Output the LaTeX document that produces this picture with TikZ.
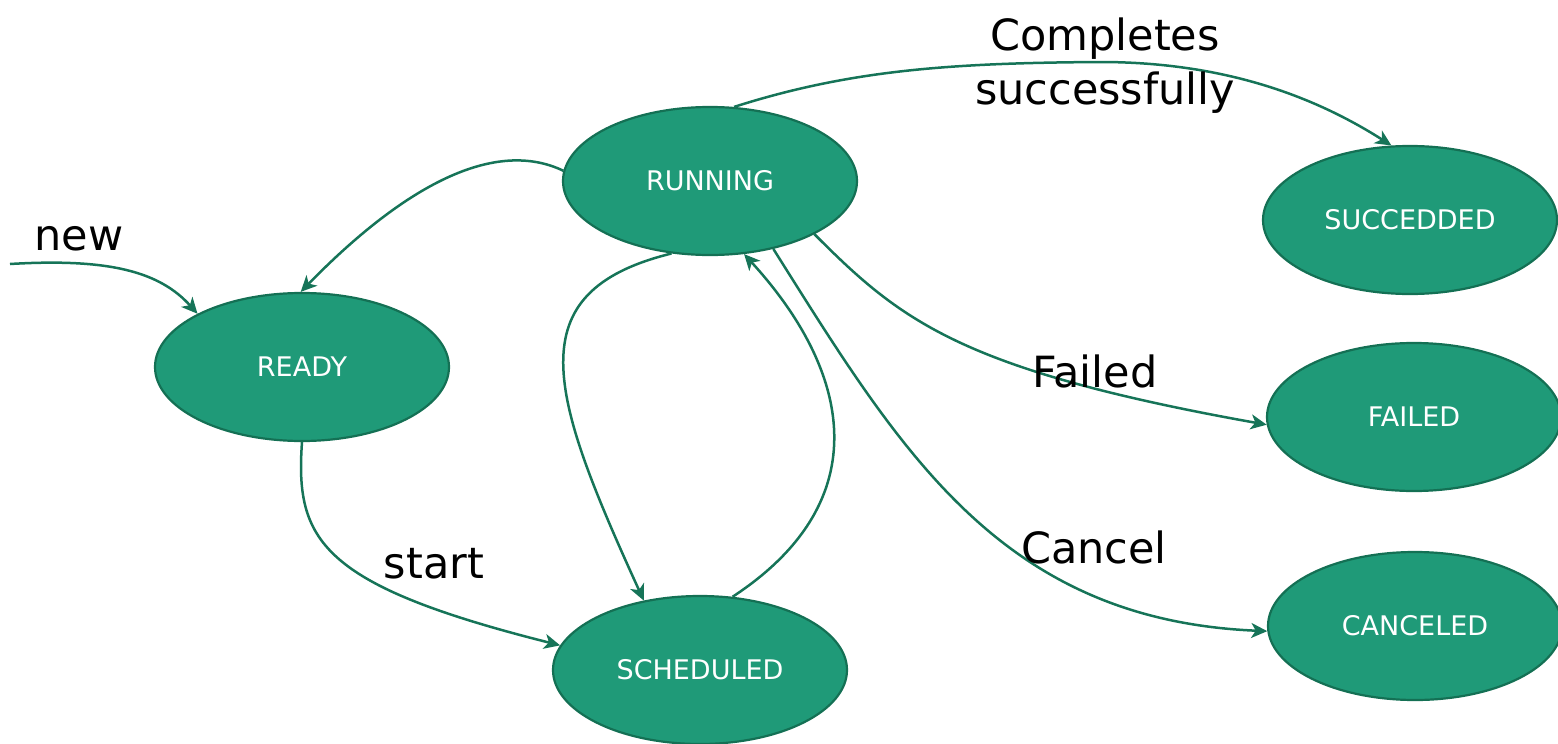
\documentclass[tikz,border=0pt]{standalone}
\usepackage{fontspec}
\setmainfont{DejaVu Sans}
\usetikzlibrary{shapes.geometric,arrows.meta}

\definecolor{stateFill}{RGB}{31,154,120}
\definecolor{stateEdge}{RGB}{20,112,84}
\definecolor{linkCol}{RGB}{22,116,88}

\tikzset{
  state/.style={ellipse, draw=stateEdge, line width=2.2pt, fill=stateFill,
    minimum width=294pt, minimum height=148pt, inner sep=0pt,
    text=white, font=\fontsize{27}{32}\selectfont},
  link/.style={draw=linkCol, line width=2.5pt,
    -{Stealth[length=16pt,width=15pt,inset=4.5pt]}},
  lbl/.style={inner sep=0pt, text=black, font=\fontsize{43}{54}\selectfont}
}

\begin{document}
\begin{tikzpicture}[x=1pt,y=-1pt]
\useasboundingbox (0,0) rectangle (1558,744);

% states
\node[state] (run) at (710,181) {RUNNING};
\node[state] (rdy) at (302,367) {READY};
\node[state] (sch) at (700,670) {SCHEDULED};
\node[state] (suc) at (1410,220) {SUCCEDDED};
\node[state] (fai) at (1414,417) {FAILED};
\node[state] (can) at (1415,626) {CANCELED};

% entry point
\coordinate (entry) at (10,264);

% transitions
\draw[link] (entry) .. controls (110,258) and (160,272) .. (rdy.153);
\draw[link] (run.176) .. controls (495,138) and (405,185) .. (rdy.91);
\draw[link] (rdy.270) .. controls (295,540) and (320,585) .. (sch.170);
\draw[link] (run.242) .. controls (515,292) and (550,395) .. (sch.129);
\draw[link] (sch.66) .. controls (880,500) and (850,370) .. (run.295);
\draw[link] (run.72) .. controls (850,70) and (950,63) .. (1100,62)
                     .. controls (1230,62) and (1320,100) .. (suc.104);
\draw[link] (run.333) .. controls (900,320) and (960,370) .. (fai.183);
\draw[link] (run.313) .. controls (900,450) and (1000,620) .. (can.182);

% labels
\node[lbl, anchor=base] (lnew) at (79,250) {new};
\node[lbl, anchor=base] (lstart) at (434,578) {start};
\node[lbl, anchor=base] (lfail) at (1095,387) {Failed};
\node[lbl, anchor=base] (lcan) at (1094,563) {Cancel};
\node[lbl, anchor=base] (lcomp1) at (1105,50) {Completes};
\node[lbl, anchor=base] (lcomp2) at (1105,104) {successfully};

\end{tikzpicture}
\end{document}
